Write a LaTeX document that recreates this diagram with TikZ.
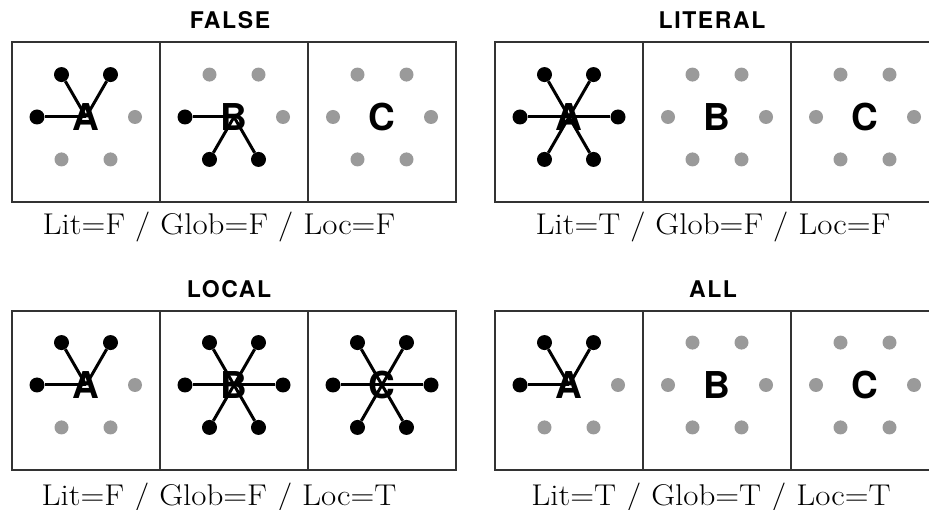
\documentclass[tikz,border=0pt]{standalone}
\usepackage{fontspec}
\setsansfont{TeX Gyre Heros}
\newfontfamily\titlefont[LetterSpace=7]{TeX Gyre Heros}
\usetikzlibrary{calc}
\definecolor{dotgray}{HTML}{9A9A9A}
\definecolor{framec}{HTML}{333333}
\tikzset{
  boxframe/.style={draw=framec, line width=1.5pt},
  bdot/.style={circle, fill=black, inner sep=0pt, minimum size=15pt},
  gdot/.style={circle, fill=dotgray, inner sep=0pt, minimum size=14pt},
  spoke/.style={line width=3pt, black},
  celllabel/.style={inner sep=0pt, font=\fontsize{37}{37}\selectfont\sffamily\bfseries},
  paneltitle/.style={anchor=base, inner sep=0pt, font=\fontsize{23}{23}\selectfont\titlefont\bfseries},
  panelcap/.style={anchor=base, inner sep=0pt, font=\fontsize{30}{30}\selectfont\rmfamily},
}
\newcommand\captext[1]{\scalebox{1.1}[1]{#1}}
% #1 name, #2 x, #3 y, #4 letter, #5 list of angle/style (b or g)
\newcommand\hexcell[5]{%
  \node[celllabel] (#1) at (#2,#3) {#4};
  \foreach \ang/\st in {#5} {%
    \node[\st dot] (#1d\ang) at ($(#1.center)+({49*cos(\ang)},{49*sin(\ang)})$) {};
    \if\st b\draw[spoke] (#1.center) -- (#1d\ang);\fi
  }%
}
\begin{document}
\begin{tikzpicture}[x=1pt,y=-1pt]
\useasboundingbox (0,0) rectangle (929,510);
\clip (0,0) rectangle (929,510);

% ---------- FALSE ----------
\node[paneltitle] (tfalse) at (230,29) {FALSE};
\draw[boxframe] (12,42) rectangle (456,202) (160,42) -- (160,202) (308,42) -- (308,202);
\hexcell{fA}{86}{117}{A}{240/b,300/b,180/b,0/g,120/g,60/g}
\hexcell{fB}{234}{117}{B}{240/g,300/g,180/b,0/g,120/b,60/b}
\hexcell{fC}{382}{117}{C}{240/g,300/g,180/g,0/g,120/g,60/g}
\node[panelcap] (cfalse) at (219,235) {\captext{Lit=F / Glob=F / Loc=F}};

% ---------- LITERAL ----------
\node[paneltitle] (tlit) at (712,29) {LITERAL};
\draw[boxframe] (495,42) rectangle (939,202) (643,42) -- (643,202) (791,42) -- (791,202);
\hexcell{lA}{569}{117}{A}{240/b,300/b,180/b,0/b,120/b,60/b}
\hexcell{lB}{717}{117}{B}{240/g,300/g,180/g,0/g,120/g,60/g}
\hexcell{lC}{865}{117}{C}{240/g,300/g,180/g,0/g,120/g,60/g}
\node[panelcap] (clit) at (713,235) {\captext{Lit=T / Glob=F / Loc=F}};

% ---------- LOCAL ----------
\node[paneltitle] (tloc) at (229,298) {LOCAL};
\draw[boxframe] (12,311) rectangle (456,470) (160,311) -- (160,470) (308,311) -- (308,470);
\hexcell{oA}{86}{385}{A}{240/b,300/b,180/b,0/g,120/g,60/g}
\hexcell{oB}{234}{385}{B}{240/b,300/b,180/b,0/b,120/b,60/b}
\hexcell{oC}{382}{385}{C}{240/b,300/b,180/b,0/b,120/b,60/b}
\node[panelcap] (cloc) at (219,505) {\captext{Lit=F / Glob=F / Loc=T}};

% ---------- ALL ----------
\node[paneltitle] (tall) at (713,298) {ALL};
\draw[boxframe] (495,311) rectangle (939,470) (643,311) -- (643,470) (791,311) -- (791,470);
\hexcell{aA}{569}{385}{A}{240/b,300/b,180/b,0/g,120/g,60/g}
\hexcell{aB}{717}{385}{B}{240/g,300/g,180/g,0/g,120/g,60/g}
\hexcell{aC}{865}{385}{C}{240/g,300/g,180/g,0/g,120/g,60/g}
\node[panelcap] (call) at (711,505) {\captext{Lit=T / Glob=T / Loc=T}};
\end{tikzpicture}
\end{document}
